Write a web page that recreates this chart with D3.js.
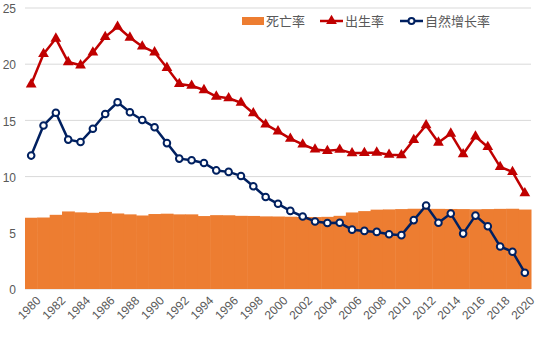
<!DOCTYPE html>
<html><head><meta charset="utf-8">
<script src="https://cdn.jsdelivr.net/npm/d3@7"></script>
<style>body{margin:0;background:#fff}svg{display:block;font-family:"Liberation Sans",Arial,"Noto Sans CJK SC",sans-serif}</style>
</head><body><svg id="c" width="543" height="344"></svg>
<script>
const years = d3.range(1980, 2021);
const deathRate = [6.34,6.36,6.60,6.90,6.82,6.78,6.86,6.72,6.64,6.54,6.67,6.70,6.64,6.64,6.49,6.57,6.56,6.51,6.50,6.46,6.45,6.43,6.41,6.40,6.42,6.51,6.81,6.93,7.06,7.08,7.11,7.14,7.13,7.13,7.12,7.11,7.09,7.11,7.13,7.14,7.07];
const birthRate = [18.21,20.91,22.28,20.19,19.90,21.04,22.43,23.33,22.37,21.58,21.06,19.68,18.24,18.09,17.70,17.12,16.98,16.57,15.64,14.64,14.03,13.38,12.86,12.41,12.29,12.40,12.09,12.10,12.14,11.95,11.90,13.27,14.57,13.03,13.83,11.99,13.57,12.64,10.86,10.41,8.52];
const growthRate = [11.87,14.55,15.68,13.29,13.08,14.26,15.57,16.61,15.73,15.04,14.39,12.98,11.60,11.45,11.21,10.55,10.42,10.06,9.14,8.18,7.58,6.95,6.45,6.01,5.87,5.89,5.28,5.17,5.08,4.87,4.79,6.13,7.43,5.90,6.71,4.93,6.53,5.58,3.78,3.32,1.45];
const yTicks = [0,5,10,15,20,25];
const xTickYears = years.filter(y => (y - 1980) % 2 === 0);
const seriesNames = ["死亡率","出生率","自然增长率"];

const svg = d3.select("#c");
const L = 25, R = 531, T = 8, B = 289;
const x = d3.scaleBand().domain(years).range([L, R]).padding(0);
const y = d3.scaleLinear().domain([0, 25]).range([B, T]);
const cx = d => x(d) + x.bandwidth() / 2;

// gridlines
svg.append("g").selectAll("line").data(yTicks).join("line")
  .attr("x1", L).attr("x2", R).attr("y1", d => y(d)).attr("y2", d => y(d))
  .attr("stroke", "#d9d9d9").attr("stroke-width", 1);

// y labels
svg.append("g").selectAll("text").data(yTicks).join("text")
  .attr("x", 16).attr("y", d => y(d) + 1).attr("dy", "0.35em").attr("text-anchor", "end")
  .attr("font-size", 12).attr("fill", "#595959").text(d => d);

// death rate bars
svg.append("g").selectAll("rect").data(years).join("rect")
  .attr("x", d => x(d)).attr("width", x.bandwidth() + 0.5)
  .attr("y", (d, i) => y(deathRate[i])).attr("height", (d, i) => B - y(deathRate[i]))
  .attr("fill", "#ED7D31");

// x labels
svg.append("g").selectAll("text").data(xTickYears).join("text")
  .attr("transform", d => `translate(${cx(d) + 4},${B + 6}) rotate(-45)`)
  .attr("text-anchor", "end").attr("dy", "0.75em")
  .attr("font-size", 12).attr("fill", "#595959").text(d => d);

const line = d3.line().x((d, i) => cx(years[i])).y(d => y(d));

// birth rate
svg.append("path").datum(birthRate).attr("d", line)
  .attr("fill", "none").attr("stroke", "#C00000").attr("stroke-width", 2.5).attr("stroke-linejoin", "round");
const tri = d3.symbol().type(d3.symbolTriangle).size(50);
svg.append("g").selectAll("path").data(birthRate).join("path")
  .attr("d", tri).attr("transform", (d, i) => `translate(${cx(years[i])},${y(d)})`)
  .attr("fill", "#C00000");

// natural growth
svg.append("path").datum(growthRate).attr("d", line)
  .attr("fill", "none").attr("stroke", "#002060").attr("stroke-width", 2.5).attr("stroke-linejoin", "round");
svg.append("g").selectAll("circle").data(growthRate).join("circle")
  .attr("cx", (d, i) => cx(years[i])).attr("cy", d => y(d)).attr("r", 3.3)
  .attr("fill", "#fff").attr("stroke", "#002060").attr("stroke-width", 2);

// legend
const lg = svg.append("g").attr("font-size", 13).attr("fill", "#595959").attr("font-family", "'Noto Sans CJK SC', sans-serif");
lg.append("rect").attr("x", 242).attr("y", 17).attr("width", 22).attr("height", 8).attr("fill", "#ED7D31");
lg.append("text").attr("x", 266).attr("y", 21).attr("dy", "0.35em").text(seriesNames[0]);
lg.append("line").attr("x1", 320).attr("x2", 343).attr("y1", 21).attr("y2", 21).attr("stroke", "#C00000").attr("stroke-width", 2.5);
lg.append("path").attr("d", tri).attr("transform", "translate(331.5,21)").attr("fill", "#C00000");
lg.append("text").attr("x", 345).attr("y", 21).attr("dy", "0.35em").text(seriesNames[1]);
lg.append("line").attr("x1", 400).attr("x2", 423).attr("y1", 21).attr("y2", 21).attr("stroke", "#002060").attr("stroke-width", 2.5);
lg.append("circle").attr("cx", 411.5).attr("cy", 21).attr("r", 3).attr("fill", "#fff").attr("stroke", "#002060").attr("stroke-width", 2);
lg.append("text").attr("x", 425).attr("y", 21).attr("dy", "0.35em").text(seriesNames[2]);
</script></body></html>
